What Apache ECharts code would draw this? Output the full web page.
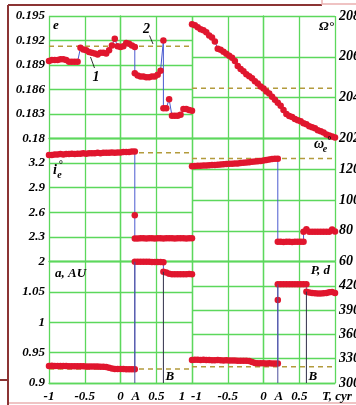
<!DOCTYPE html>
<html>
<head>
<meta charset="utf-8">
<script src="https://cdn.jsdelivr.net/npm/echarts@6/dist/echarts.min.js"></script>
<style>
html,body{margin:0;padding:0;background:#fff;}
#main{width:356px;height:405px;}
</style>
</head>
<body>
<div id="main"></div>
<script>
// 时间轴 T, cyr
var T = [-1,-0.96,-0.92,-0.88,-0.84,-0.8,-0.76,-0.72,-0.68,-0.64,
	-0.6,-0.56,-0.52,-0.48,-0.44,-0.4,-0.36,-0.32,-0.28,-0.24,
	-0.2,-0.16,-0.12,-0.08,-0.04,0,0.04,0.08,0.12,0.16,
	0.2,0.24,0.28,0.32,0.36,0.4,0.44,0.48,0.52,0.56,
	0.6,0.64,0.68,0.72,0.76,0.8,0.84,0.88,0.92,0.96,1];

// e
var eVals = [0.1895,0.1896,0.1896,0.1896,0.1897,0.1897,0.1896,0.1894,0.1894,0.1894,
	0.1894,0.1911,0.1909,0.1908,0.1906,0.1905,0.1904,0.1903,0.1905,0.1905,
	0.1904,0.1908,0.1914,0.1922,0.1913,0.1912,0.1913,0.1917,0.1916,0.1914,
	0.1912,0.1877,0.1876,0.1876,0.1875,0.1875,0.1876,0.1876,0.1878,0.1883,
	0.1920,0.1837,0.1848,0.1828,0.1828,0.1828,0.1829,0.1836,0.1836,0.1835,0.1834];
var eJumps = [[0.2,0.1880],[0.6,0.1837]];

// Omega
var omVals = [207.6,207.55,207.45,207.35,207.3,207.2,207.05,206.95,206.75,206.4,
	206.35,206.25,206.15,206.05,205.95,205.8,205.55,205.4,205.3,205.15,
	205.05,204.95,204.8,204.7,204.55,204.45,204.3,204.2,204.05,203.9,
	203.75,203.6,203.4,203.2,203.1,203.05,202.95,202.9,202.85,202.75,
	202.7,202.6,202.55,202.5,202.4,202.35,202.3,202.2,202.15,202.1,202.05];
var omJumps = [];

// i_e
var ieVals = [3.300,3.300,3.305,3.305,3.310,3.305,3.310,3.310,3.315,3.310,
	3.315,3.315,3.320,3.315,3.320,3.320,3.320,3.325,3.320,3.325,
	3.325,3.325,3.330,3.325,3.330,3.330,3.335,3.335,3.335,3.340,
	3.340,2.280,2.285,2.285,2.280,2.285,2.285,2.280,2.285,2.285,
	2.280,2.285,2.285,2.285,2.280,2.285,2.285,2.285,2.280,2.285,2.285];
var ieJumps = [[0.2,2.565],[0.2,2.280]];

// omega_e
var weVals = [122.0,122.1,122.2,122.3,122.4,122.5,122.6,122.7,122.8,123.0,
	123.1,123.3,123.4,123.5,123.6,123.7,123.8,124.0,124.2,124.4,
	124.6,124.8,125.0,125.2,125.4,125.7,126.0,126.3,126.6,126.8,
	126.9,72.8,72.7,72.8,72.8,72.7,72.8,72.9,72.8,72.9,
	80.9,79.4,79.3,79.4,79.3,79.3,79.4,79.3,79.4,80.8,79.5];
var weJumps = [[0.2,72.8],[0.56,79.3]];

// a, AU
var aVals = [0.9280,0.9282,0.9280,0.9281,0.9279,0.9278,0.9278,0.9277,0.9276,0.9276,
	0.9275,0.9274,0.9274,0.9273,0.9272,0.9271,0.9270,0.9270,0.9268,0.9266,
	0.9262,0.9250,0.9238,0.9232,0.9230,0.9230,0.9229,0.9228,0.9228,0.9227,
	0.9226,1.0995,1.0995,1.0994,1.0995,1.0994,1.0993,1.0993,1.0992,1.0990,
	1.0988,1.0820,1.0800,1.0792,1.0790,1.0790,1.0789,1.0790,1.0791,1.0793,1.0792];
var aJumps = [[0.2,1.0995],[0.6,1.0830]];

// P, d
var pVals = [328.5,328.8,328.6,328.4,328.6,328.3,328.5,328.2,328.1,328.3,
	328.0,327.9,328.1,327.8,327.7,327.9,327.6,327.5,327.6,327.4,
	327.2,326.0,324.6,324.4,324.3,324.3,324.2,324.3,324.2,324.2,
	324.1,421.9,422.0,421.9,421.9,422.0,421.9,421.9,422.0,421.9,
	421.8,411.8,411.0,410.8,410.6,410.6,410.7,411.2,412.0,412.2,411.0];
var pJumps = [[0.2,402.5],[0.2,421.9],[0.6,412.8]];

// 虚线水平
var refLevels = [0.1913,204.46,3.326,127.0,0.9232,320];
// 坐标轴范围
var yMin = [0.18,202,2,60,0.9,300];
var yMax = [0.195,208,3.5,140,1.1,450];
var yStep = [0.003,2,0.3,20,0.05,30];
// A, B 时刻
var markT = [0.2,0.6];

var GREEN = '#5cd85c';
var FONT = 'Liberation Serif';

function build(vals,jumps){
	var pts = T.map(function(t,i){return [t,vals[i]];});
	pts = pts.concat(jumps.map(function(j){return [j[0],j[1]];}));
	pts.sort(function(p,q){return p[0]-q[0];});
	return pts;
}

var allVals = [eVals,omVals,ieVals,weVals,aVals,pVals];
var allJumps = [eJumps,omJumps,ieJumps,weJumps,aJumps,pJumps];

var grids = [],xAxes = [],yAxes = [],series = [];
var tops = [16,138.5,261.5],hs = [122.5,123,121.5];
for(var k=0;k<6;k++){
	var col = k%2,row = Math.floor(k/2);
	grids.push({left:col?192:49,top:tops[row],width:143,height:hs[row],outerBoundsMode:'none',containLabel:false});
	var bottomRow = row===2;
	xAxes.push({
		type:'value',gridIndex:k,min:-1,max:1,interval:0.5,
		axisLine:{show:true,lineStyle:{color:GREEN,width:1.3}},
		axisTick:{show:false},
		splitLine:{show:true,lineStyle:{color:GREEN,width:1.3}},
		axisLabel:{
			show:bottomRow,margin:7,color:'#000',fontFamily:FONT,fontSize:13,fontStyle:'italic',fontWeight:'bold',
			formatter:(function(c){
				return function(v){
					if(c===0&&v===1) return '{r|1}';
					if(c===1&&v===-1) return '{l|-1}';
					if(c===1&&v===1) return '{t|T, cyr}';
					return String(v);
				};
			})(col),
			rich:{
				r:{fontFamily:FONT,fontSize:13,fontStyle:'italic',fontWeight:'bold',color:'#000',padding:[0,20,0,0]},
				l:{fontFamily:FONT,fontSize:13,fontStyle:'italic',fontWeight:'bold',color:'#000',padding:[0,0,0,9]},
				t:{fontFamily:FONT,fontSize:13,fontStyle:'italic',fontWeight:'bold',color:'#000',padding:[0,0,0,4]}
			}
		}
	});
	yAxes.push({
		type:'value',gridIndex:k,min:yMin[k],max:yMax[k],interval:yStep[k],
		position:col?'right':'left',
		axisLine:{show:true,lineStyle:{color:GREEN,width:1.3}},
		axisTick:{show:false},
		splitLine:{show:true,lineStyle:{color:GREEN,width:1.3}},
		axisLabel:{
			show:true,margin:4,color:'#000',fontFamily:FONT,fontSize:col?14:13,fontStyle:'italic',fontWeight:'bold',
			showMaxLabel:row===0,showMinLabel:true
		}
	});
	// 虚线
	series.push({
		type:'line',xAxisIndex:k,yAxisIndex:k,silent:true,symbol:'none',z:2,
		lineStyle:{color:'#b39b3c',width:1.5,type:[5,4]},
		data:[[-1,refLevels[k]],[1,refLevels[k]]]
	});
	// 数据
	series.push({
		type:'line',xAxisIndex:k,yAxisIndex:k,symbol:'circle',symbolSize:6.5,showAllSymbol:true,z:3,
		lineStyle:{color:'#4a5bd0',width:1},
		itemStyle:{color:'#e0162e'},
		data:build(allVals[k],allJumps[k])
	});
}

// A, B 竖线
var lowerPanels = [4,5];
lowerPanels.forEach(function(k){
	var j = allJumps[k];
	var topA = k===4?j[0][1]:j[1][1];
	var topB = j[j.length-1][1];
	series.push({type:'line',xAxisIndex:k,yAxisIndex:k,symbol:'none',silent:true,z:4,
		lineStyle:{color:'#4c4f9c',width:1},data:[[markT[0],yMin[k]],[markT[0],topA]]});
	series.push({type:'line',xAxisIndex:k,yAxisIndex:k,symbol:'none',silent:true,z:4,
		lineStyle:{color:'#2e2e48',width:1},data:[[markT[1],yMin[k]],[markT[1],topB]]});
});

var chart = echarts.init(document.getElementById('main'),null,{renderer:'canvas'});
chart.setOption({
	animation:false,
	backgroundColor:'#fff',
	grid:grids,xAxis:xAxes,yAxis:yAxes,series:series
});

var tf = {fontFamily:FONT,fontStyle:'italic',fontWeight:'bold',fill:'#000'};
function txt(x,y,s,size,align){
	return {type:'text',x:x,y:y,z:10,style:Object.assign({text:s,fontSize:size,align:align||'center',verticalAlign:'middle'},tf)};
}
var g = [
	// 外框
	{type:'line',shape:{x1:8,y1:5,x2:322,y2:5},style:{stroke:'#8b3434',lineWidth:2}},
	{type:'line',shape:{x1:8,y1:5,x2:8,y2:405},style:{stroke:'#8b3434',lineWidth:2}},
	{type:'line',shape:{x1:0,y1:380,x2:8,y2:380},style:{stroke:'#8b3434',lineWidth:2}},
	{type:'line',shape:{x1:9,y1:403,x2:356,y2:403},style:{stroke:'#eab0b0',lineWidth:1.5}},
	{type:'rect',shape:{x:322,y:-1,width:40,height:5},style:{fill:'none',stroke:'#eab0b0',lineWidth:1.5}},
	// 面板标题
	txt(56,26,'e',13),
	txt(334,27,'Ω°',13,'right'),
	txt(55,170,'i',14),
	txt(59.5,175,'e',10),
	txt(60.5,165,'°',10),
	txt(319,144,'ω',14),
	txt(325,149,'e',10),
	txt(329,141,'°',10),
	txt(55,274,'a, AU',13,'left'),
	txt(330,271,'P, d',13,'right'),
	// 曲线编号
	txt(96,77,'1',14),
	txt(146.5,29.5,'2',14),
	{type:'line',shape:{x1:90.5,y1:57,x2:94.5,y2:68},style:{stroke:'#000',lineWidth:0.8}},
	{type:'line',shape:{x1:149.5,y1:35.5,x2:153,y2:44},style:{stroke:'#000',lineWidth:0.8}}
];
lowerPanels.forEach(function(k){
	var pa = chart.convertToPixel({xAxisIndex:k,yAxisIndex:k},[markT[0],yMin[k]]);
	var pb = chart.convertToPixel({xAxisIndex:k,yAxisIndex:k},[markT[1],yMin[k]]);
	g.push(txt(pa[0]+1,pa[1]+14,'A',13));
	g.push(txt(pb[0]+2,pb[1]-6,'B',13,'left'));
});
chart.setOption({graphic:g});
</script>
</body>
</html>
